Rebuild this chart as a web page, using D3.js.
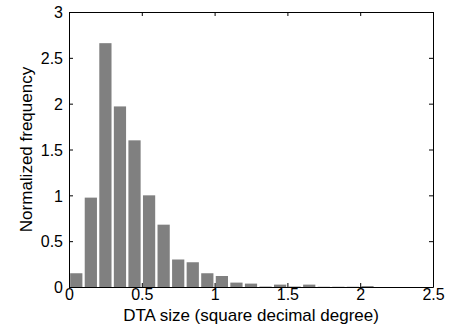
<!DOCTYPE html>
<html><head><meta charset="utf-8">
<script src="https://cdn.jsdelivr.net/npm/d3@7"></script>
<style>body{margin:0;background:#fff}svg{display:block}text{font-family:"Liberation Sans",Arial,sans-serif;fill:#000}</style>
</head><body>
<svg id="c" width="450" height="330"></svg>
<script>
const binStarts = [0,0.1,0.2,0.3,0.4,0.5,0.6,0.7,0.8,0.9,1.0,1.1,1.2,1.3,1.4,1.5,1.6,1.7,1.8,1.9,2.0,2.1,2.2,2.3,2.4];
const freq = [0.15,0.975,2.66,1.97,1.60,1.0,0.68,0.30,0.27,0.15,0.12,0.048,0.037,0.005,0.026,0.005,0.026,0.003,0.003,0.003,0.01,0,0,0,0];
const binWidth = 0.1;
const xTicks = [0,0.5,1,1.5,2,2.5];
const yTicks = [0,0.5,1,1.5,2,2.5,3];
const xLabel = "DTA size (square decimal degree)";
const yLabel = "Normalized frequency";

const svg = d3.select("#c");
const L=69, R=433, T=12, B=287;
const x = d3.scaleLinear().domain([0,2.5]).range([L,R]);
const y = d3.scaleLinear().domain([0,3]).range([B,T]);

svg.append("g").selectAll("rect").data(binStarts.map((s,i)=>({s,v:freq[i]})).filter(d=>d.v>0))
  .join("rect")
  .attr("x", d=>x(d.s + binWidth*0.08))
  .attr("width", d=>x(d.s+binWidth*0.92)-x(d.s+binWidth*0.08))
  .attr("y", d=>y(d.v))
  .attr("height", d=>y(0)-y(d.v))
  .attr("fill","#808080");

const tl=4;
const fmt = d=>String(d);
const gx = svg.append("g").attr("transform",`translate(0,${B})`)
  .call(d3.axisBottom(x).tickValues(xTicks).tickFormat(fmt).tickSizeInner(-tl).tickSizeOuter(0).tickPadding(2));
const gxt = svg.append("g").attr("transform",`translate(0,${T})`)
  .call(d3.axisTop(x).tickValues(xTicks).tickFormat("").tickSizeInner(-tl).tickSizeOuter(0));
const gy = svg.append("g").attr("transform",`translate(${L},0)`)
  .call(d3.axisLeft(y).tickValues(yTicks).tickFormat(fmt).tickSizeInner(-tl).tickSizeOuter(0).tickPadding(6));
const gyr = svg.append("g").attr("transform",`translate(${R},0)`)
  .call(d3.axisRight(y).tickValues(yTicks).tickFormat("").tickSizeInner(-tl).tickSizeOuter(0));
[gx,gxt,gy,gyr].forEach(g=>{
  g.select(".domain").attr("stroke","#000");
  g.selectAll(".tick line").attr("stroke","#000");
  g.selectAll("text").attr("font-size","16px").attr("font-family","Liberation Sans, Arial, sans-serif").attr("fill","#000");
});
gx.selectAll("text").attr("dy","0.71em");
gy.selectAll("text").attr("dy","0.36em");

svg.append("text").attr("x",(L+R)/2).attr("y",321).attr("text-anchor","middle").attr("font-size","17px").text(xLabel);
svg.append("text").attr("transform",`translate(32,${(T+B)/2}) rotate(-90)`).attr("text-anchor","middle").attr("font-size","17px").text(yLabel);
</script>
</body></html>
